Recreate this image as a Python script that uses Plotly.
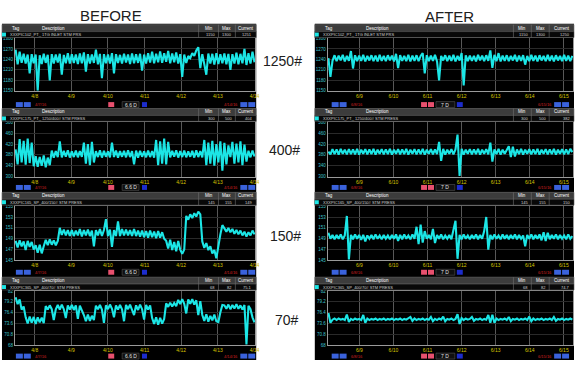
import numpy as np
import plotly.graph_objects as go

W, H = 578, 366

# ---------------- data ----------------
left_dates = ["4/8", "4/9", "4/10", "4/11", "4/12", "4/13", "4/14"]
right_dates = ["6/9", "6/10", "6/11", "6/12", "6/13", "6/14", "6/15"]

y_ticks_1250 = [1150, 1180, 1210, 1240, 1270, 1300]
y_ticks_400 = [300, 340, 380, 420, 460, 500]
y_ticks_150 = [145, 147, 149, 151, 153, 155]
y_ticks_70 = [68, 70.8, 73.6, 76.4, 79.2, 82]

before_1250 = [1268, 1226, 1262, 1230, 1256, 1228, 1254, 1200, 1255, 1229,
               1254, 1150, 1252, 1227, 1256, 1230, 1253, 1180, 1255, 1228,
               1254, 1231, 1256, 1196, 1253, 1229, 1258, 1228, 1255, 1230,
               1254, 1227, 1257, 1229, 1260, 1205, 1255, 1228, 1254, 1230,
               1268, 1226, 1256, 1186, 1255, 1229, 1254, 1228, 1258, 1200,
               1255, 1230, 1253, 1228, 1256, 1231, 1254, 1227, 1257, 1229,
               1255, 1230, 1256, 1208, 1254, 1228, 1258, 1231, 1262, 1229,
               1256, 1232, 1263, 1230, 1258, 1233, 1264, 1229, 1257, 1232,
               1260, 1228, 1255, 1190, 1254, 1230, 1250, 1244, 1258, 1250,
               1266, 1275, 1215, 1255, 1226, 1196, 1257, 1228, 1256, 1225,
               1258, 1227, 1255, 1229, 1257, 1226, 1256, 1210, 1255, 1228,
               1259, 1226, 1256, 1229, 1270, 1224, 1258, 1228, 1262, 1232]
after_1250 = [1244, 1190, 1236, 1252, 1235, 1251, 1237, 1253, 1234, 1250,
              1236, 1264, 1214, 1252, 1235, 1251, 1236, 1253, 1234, 1250,
              1237, 1252, 1235, 1251, 1234, 1253, 1236, 1250, 1235, 1252,
              1237, 1251, 1234, 1256, 1215, 1252, 1236, 1250, 1235, 1253,
              1234, 1251, 1236, 1252, 1235, 1250, 1258, 1200, 1252, 1235,
              1251, 1236, 1253, 1234, 1180, 1250, 1237, 1252, 1235, 1251,
              1236, 1253, 1234, 1250, 1237, 1258, 1165, 1252, 1235, 1251,
              1236, 1250, 1234, 1253, 1237, 1251, 1235, 1252, 1236, 1266,
              1216, 1253, 1235, 1258, 1234, 1251, 1236, 1252, 1235, 1250,
              1237, 1253, 1234, 1251, 1236, 1252, 1225, 1250, 1235, 1253,
              1236, 1251, 1234, 1252, 1237, 1250, 1235, 1253, 1236, 1251,
              1234, 1252, 1237, 1250, 1235, 1253, 1236, 1251, 1235, 1250]

before_400 = [400, 345, 438, 352, 432, 344, 440, 350, 425,
              338, 375, 336, 372, 340, 378, 334, 370, 342,
              396, 370, 394, 372, 430, 371, 395, 373, 397, 370, 393, 372, 396, 371, 394, 373,
              425, 348, 420, 342, 428, 352,
              394, 372, 397, 370, 395, 373, 393, 371, 425, 372, 396, 370, 394, 373, 395,
              371, 397, 372, 394, 345, 396, 370, 395, 373, 393, 371, 396, 372, 394, 370,
              435, 342, 430, 348, 440, 345, 428,
              371, 395, 373, 397, 370, 394, 372, 396, 371, 393, 373, 395, 370, 397, 372, 394, 371,
              435, 342, 425, 348, 432, 340, 420, 352, 430, 322, 424, 345, 415,
              372,
              428, 348, 422, 352, 430, 342, 418, 355,
              395, 371, 396, 374]
after_400 = [392, 382, 401, 383, 400, 381, 402, 384, 399, 382,
             401, 383, 400, 382, 402, 381, 399, 384, 401, 382,
             400, 383, 402, 381, 399, 384, 401, 382, 400, 383,
             402, 381, 399, 384, 401, 382, 400, 383, 402, 381,
             399, 384, 401, 382, 400, 383, 402, 381, 399, 384,
             401, 382, 400, 383, 428, 358, 402, 381, 399, 384,
             401, 382, 400, 455, 302, 402, 381, 399, 384, 401,
             382, 400, 383, 402, 381, 399, 384, 401, 382, 425,
             355, 400, 383, 402, 381, 399, 384, 401, 412, 372,
             410, 374, 400, 383, 402, 381, 399, 384, 401, 382,
             400, 383, 402, 381, 399, 384, 401, 382, 400, 383,
             402, 381, 399, 384, 401, 382, 400, 383, 402, 390]

before_150 = [148.6, 147.4, 148.7, 147.6, 148.5, 146.9, 148.6, 147.5, 148.4, 147.0,
              147.8, 146.4, 147.9, 146.3, 147.6,
              148.8, 147.8, 148.9, 147.9, 148.7, 147.8, 148.6,
              151.0, 149.7, 150.7, 149.6, 150.6, 149.5, 150.6, 149.5, 150.5, 149.6, 150.8, 149.4,
              150.6, 149.6, 150.7, 149.5, 150.5, 147.6, 150.6, 149.6, 150.8, 149.5, 150.6,
              152.6, 149.5, 150.7, 147.5, 150.6, 149.5, 152.2, 149.5, 150.8, 149.6, 150.7, 149.6,
              150.6, 149.5, 150.8, 149.5, 150.5,
              149.4, 150.5, 149.3, 150.4, 149.2, 150.5, 149.3, 150.3, 149.1, 150.4, 149.2, 150.2, 149.0,
              148.6, 147.2, 148.8, 146.9, 148.4, 146.7, 148.6, 147.0,
              146.2, 147.0,
              153.2, 152.5, 153.5, 152.8, 153.7, 153.1, 154.0, 153.5,
              148.5, 147.3, 148.2, 146.9, 147.6, 146.3, 146.9, 145.4,
              147.8, 149.8, 151.5,
              150.9, 150.3, 151.0, 150.2, 150.8, 149.9, 150.6, 149.8, 150.5, 149.6, 150.3, 149.4,
              150.2, 149.6, 150.5, 149.8]
after_150 = [150.1, 149.0, 149.7, 148.9, 149.7, 149.0, 149.8, 148.9, 149.6, 153.2,
             145.2, 149.7, 148.9, 149.8, 149.0, 149.7, 148.8, 149.7, 148.5, 149.6,
             149.0, 149.7, 148.9, 149.8, 149.0, 149.6, 148.9, 149.7, 149.0, 149.6,
             148.9, 149.7, 149.0, 149.8, 148.6, 149.7, 148.9, 149.8, 149.0, 149.6,
             148.9, 149.8, 149.0, 151.2, 148.0, 151.6, 148.3, 150.4, 149.0, 149.7,
             148.9, 150.8, 148.2, 149.7, 149.0, 149.8, 148.9, 149.6, 149.0, 149.7,
             148.9, 150.6, 152.3, 145.3, 149.7, 148.9, 149.8, 149.0, 149.6, 148.9,
             149.7, 149.0, 149.8, 148.9, 149.7, 149.0, 150.4, 153.0, 147.0, 149.7,
             148.9, 149.8, 149.0, 149.6, 148.9, 149.8, 149.0, 149.7, 148.9, 149.7,
             149.0, 149.8, 148.9, 149.7, 149.0, 149.6, 147.6, 149.7, 149.0, 149.8,
             148.9, 149.7, 149.0, 149.8, 148.7, 150.2, 148.6, 150.1, 148.9, 149.7,
             149.0, 149.8, 148.9, 149.7, 149.0, 149.6, 148.9, 149.8, 149.0, 149.5]

before_70 = [80.4, 78.6, 79.8, 77.2, 78.0,
             75.2, 73.6, 75.4, 73.8, 75.3, 73.5, 75.2, 73.9, 75.1, 73.7,
             78.1, 77.2, 78.3, 77.3, 74.5, 77.3, 78.4, 77.2, 78.5, 77.3, 75.0, 78.3, 77.2, 78.4,
             77.1, 78.3, 74.8, 78.2, 77.2,
             75.8, 74.2, 75.9, 74.3, 75.6, 74.5,
             78.2, 77.3, 78.4, 77.2, 73.8, 78.3, 77.3, 78.5, 77.4, 75.2, 78.3, 77.2, 78.4, 77.3,
             74.2, 78.4, 77.3, 78.5, 77.2, 75.8, 78.3, 77.1, 78.5, 77.3, 74.6, 78.4, 77.2, 78.3,
             75.0, 73.5, 75.2, 73.3, 75.1, 73.6, 74.8,
             78.8, 77.9, 79.0, 78.0, 78.9, 78.1,
             79.7, 78.6, 79.9, 78.7, 76.2, 79.8, 78.7, 79.9, 78.5, 79.6, 75.8, 79.4,
             75.8, 74.3, 76.0, 74.1, 75.6, 74.4, 75.9, 74.2,
             74.0, 76.5, 78.4,
             78.3, 77.4, 78.5, 77.3, 78.4, 77.5, 78.6, 77.4, 78.3, 77.2, 78.4, 68.2, 78.2, 77.3,
             75.2, 73.9]
after_70 = [76.3, 73.8, 74.6, 74.9, 74.5, 74.9, 74.6, 74.8, 74.5, 75.9,
            74.0, 74.8, 74.5, 74.9, 74.6, 74.8, 74.5, 75.8, 73.8, 74.9,
            74.5, 74.8, 74.6, 74.9, 74.5, 74.8, 74.6, 74.9, 74.5, 74.8,
            74.6, 74.9, 74.5, 74.8, 74.6, 74.9, 74.5, 74.8, 74.6, 74.9,
            75.3, 74.3, 74.9, 74.5, 74.8, 74.6, 74.9, 74.5, 74.8, 74.6,
            75.3, 74.2, 74.8, 74.5, 74.9, 74.6, 75.4, 74.2, 74.8, 74.6,
            74.9, 74.5, 74.8, 76.0, 73.5, 75.0, 74.5, 74.9, 74.6, 74.8,
            75.3, 74.3, 74.8, 74.6, 74.9, 74.5, 74.8, 74.6, 75.8, 73.8,
            75.9, 73.8, 74.9, 74.5, 74.8, 74.6, 74.9, 74.5, 75.3, 74.2,
            74.8, 74.6, 74.9, 74.5, 74.8, 74.6, 74.9, 74.5, 75.4, 74.2,
            74.9, 74.5, 74.8, 74.6, 74.9, 74.5, 74.8, 74.6, 74.9, 74.5,
            75.3, 74.3, 74.8, 74.6, 74.9, 74.5, 74.8, 74.6, 74.9, 74.6]

tag_names = ["XXXPIC102_PT_ 1TG INLET STM PRS", "XXXPIC175_PT_ 1250/400# STM PRESS",
             "XXXPIC165_SP_400/150# STM PRESS", "XXXPIC365_SP_400/70# STM PRESS"]
row_labels = ["1250#", "400#", "150#", "70#"]
mins = ["1150", "300", "145", "68"]
maxs = ["1300", "500", "155", "82"]
cur_before = ["1251", "404", "149", "75.1"]
cur_after = ["1250", "382", "150", "74.7"]

series = [(before_1250, after_1250, y_ticks_1250),
          (before_400, after_400, y_ticks_400),
          (before_150, after_150, y_ticks_150),
          (before_70, after_70, y_ticks_70)]

# ---------------- layout helpers ----------------
def X(px):
    return px / W

def Y(py):
    return 1 - py / H

CYAN = "#1ce6e6"
rows = [(23, 37, 90, 104), (108, 122, 177, 188), (193, 207, 262, 274), (279, 293, 348, 359)]
sides = [
    dict(px0=2, px1=258, plot0=15, plot1=257, xr=[-0.54, 6.02], labels=left_dates,
         seps=[200, 220, 237], desc=40, cur=cur_before),
    dict(px0=317, px1=578, plot0=330, plot1=577, xr=[-0.93, 6.27], labels=right_dates,
         seps=[517, 535, 553], desc=367, cur=cur_after),
]

fig = go.Figure()
shapes = []
annos = []

def rect(x0, y0, x1, y1, fill, line=None, lw=0.6, layer="above"):
    shapes.append(dict(type="rect", xref="paper", yref="paper", x0=X(x0), x1=X(x1), y0=Y(y1), y1=Y(y0),
                       fillcolor=fill, line=dict(color=line or fill, width=lw if line else 0), layer=layer))

def text(x, y, s, size=4.5, color="white", xanchor="left", family="Liberation Sans"):
    annos.append(dict(x=X(x), y=Y(y), xref="paper", yref="paper", text=s, showarrow=False,
                      xanchor=xanchor, yanchor="middle", font=dict(size=size, color=color, family=family)))

# column backgrounds
for sd in sides:
    rect(sd["px0"], 22, sd["px1"], 363, "black", layer="below")

layout_axes = {}
for r, (ht, pt, pb, tc) in enumerate(rows):
    before, after, yt = series[r]
    for s, sd in enumerate(sides):
        n = r * 2 + s + 1
        vals = before if s == 0 else after
        xs = np.linspace(sd["xr"][0] + 0.02, sd["xr"][1] - 0.02, len(vals))
        xa = "x" if n == 1 else f"x{n}"
        ya = "y" if n == 1 else f"y{n}"
        fig.add_trace(go.Scatter(x=xs, y=vals, mode="lines", xaxis=xa, yaxis=ya,
                                 line=dict(color=CYAN, width=2.1), hoverinfo="skip", showlegend=False))
        kx = "xaxis" if n == 1 else f"xaxis{n}"
        ky = "yaxis" if n == 1 else f"yaxis{n}"
        layout_axes[kx] = dict(domain=[X(sd["plot0"]), X(sd["plot1"])], range=sd["xr"], anchor=ya,
                               tickvals=list(range(7)), ticktext=sd["labels"], ticks="",
                               tickfont=dict(size=5, color="#d6c400", family="Liberation Sans"),
                               showgrid=True, gridcolor="#585858", gridwidth=1, zeroline=False,
                               showline=True, linecolor="#9a9a9a", linewidth=1, mirror=True,
                               fixedrange=True)
        layout_axes[ky] = dict(domain=[Y(pb), Y(pt)], range=[yt[0], yt[-1]], anchor=xa,
                               tickvals=yt, ticks="",
                               tickfont=dict(size=4.5, color="#3cc0cc", family="Liberation Sans"),
                               showgrid=True, gridcolor="#2a2a2a", gridwidth=1, zeroline=False,
                               showline=True, linecolor="#9a9a9a", linewidth=1, mirror=True,
                               fixedrange=True)

        # header
        x0, x1 = sd["px0"], sd["px1"]
        rect(x0, ht, x1, ht + 7, "#3c3c3c", "#707070")
        rect(x0, ht + 7, x1, ht + 13, "#080808", "#555555")
        for sx in sd["seps"]:
            shapes.append(dict(type="line", xref="paper", yref="paper", x0=X(sx), x1=X(sx),
                               y0=Y(ht + 13), y1=Y(ht), line=dict(color="#707070", width=0.6)))
        rect(x0, ht + 8, x0 + 4, ht + 12, CYAN)
        text(x0 + 8, ht + 3.5, "Tag")
        text(sd["desc"], ht + 3.5, "Description")
        sp = sd["seps"]
        text((sp[0] + sp[1]) / 2, ht + 3.5, "Min", xanchor="center")
        text((sp[1] + sp[2]) / 2, ht + 3.5, "Max", xanchor="center")
        text((sp[2] + x1) / 2, ht + 3.5, "Current", xanchor="center")
        text(x0 + 6, ht + 10, tag_names[r], size=4, color="#d0d0d0")
        text(sp[1] - 1, ht + 10, mins[r], size=4, color="#d0d0d0", xanchor="right")
        text(sp[2] - 1, ht + 10, maxs[r], size=4, color="#d0d0d0", xanchor="right")
        text(x1 - 2, ht + 10, sd["cur"][r], size=4, color="#d0d0d0", xanchor="right")

        # toolbar
        BL, PK, DB = "#3a62dc", "#e8506e", "#1c2ccc"
        if s == 0:
            rect(16, tc - 2.5, 23, tc + 2.5, BL)
            rect(24, tc - 2.5, 31, tc + 2.5, BL)
            text(33, tc, "4/7/16", size=4, color="#d42020")
            rect(109, tc - 2.5, 115, tc + 2.5, PK)
            rect(123, tc - 3, 140, tc + 3, "#101010", "#555555")
            text(131.5, tc, "6.6 D", size=5, color="#e0e0e0", xanchor="center")
            rect(143, tc - 2.5, 148, tc + 2.5, DB)
            text(224, tc, "4/14/16", size=4, color="#d42020")
            rect(242, tc - 2.5, 249, tc + 2.5, BL)
            rect(250, tc - 2.5, 257, tc + 2.5, BL)
        else:
            rect(334, tc - 2.5, 341, tc + 2.5, BL)
            rect(342, tc - 2.5, 349, tc + 2.5, BL)
            text(351, tc, "6/8/16", size=4, color="#d42020")
            rect(424, tc - 2.5, 430, tc + 2.5, PK)
            rect(431, tc - 2.5, 437, tc + 2.5, PK)
            rect(439, tc - 3, 458, tc + 3, "#101010", "#555555")
            text(448.5, tc, "7 D", size=5, color="#e0e0e0", xanchor="center")
            rect(460, tc - 2.5, 466, tc + 2.5, DB)
            text(540, tc, "6/15/16", size=4, color="#d42020")
            rect(558, tc - 2.5, 565, tc + 2.5, BL)
            rect(566, tc - 2.5, 573, tc + 2.5, BL)

# big labels
text(112, 14, "BEFORE", size=15, color="#202020", xanchor="center", family="Liberation Sans, Arial")
text(453, 15, "AFTER", size=15, color="#202020", xanchor="center", family="Liberation Sans, Arial")
for lab, (lx, ly) in zip(row_labels, [(284, 60), (286, 150), (287, 237), (289, 322)]):
    text(lx, ly, lab, size=14, color="#202020", xanchor="center", family="Liberation Sans, Arial")

fig.update_layout(width=W, height=H, margin=dict(l=0, r=0, t=0, b=0),
                  paper_bgcolor="white", plot_bgcolor="black",
                  shapes=shapes, annotations=annos, showlegend=False, **layout_axes)

fig.write_html("out.html", config={"displayModeBar": False},
               post_script="document.body.style.margin='0px';document.body.style.overflow='hidden';")
